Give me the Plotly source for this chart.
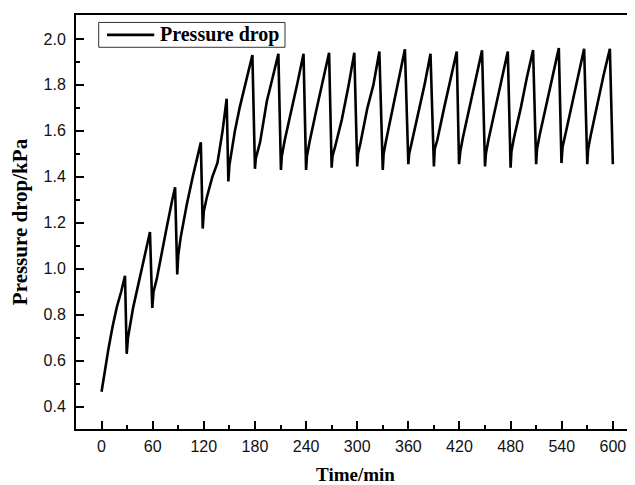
import plotly.graph_objects as go

# Time (min) and pressure drop (kPa)
time_min = [
    0, 4, 8, 13, 18, 23, 27.5, 29.5,
    31, 37, 43, 50, 56.8, 59.5,
    61, 65, 71, 77, 83, 86.3, 88.8,
    90, 93, 100, 107, 113, 116.5, 118.7,
    120, 123.5, 130, 136, 142, 146.8, 148.8,
    150, 156.5, 162, 168, 173, 177, 180,
    181, 186, 194, 200, 207.5, 210.5,
    211.5, 215, 223, 230, 237, 240,
    241, 244, 252, 260, 267, 270,
    271, 274, 282, 290, 296.6, 300,
    301, 304, 312, 319, 326, 330,
    331, 334, 342, 349, 356, 360,
    361, 364, 372, 379, 386, 390,
    391, 394, 402, 409, 416.8, 419.5,
    421, 424, 432, 439, 446.5, 450,
    451, 454, 462, 469, 476.7, 480,
    481, 484, 492, 499, 506.4, 510,
    511, 514, 522, 529, 536.6, 539.7,
    541, 544, 552, 559, 566.3, 570,
    571, 574, 582, 589, 596.5, 600,
]
pressure_kpa = [
    0.465, 0.56, 0.65, 0.75, 0.835, 0.90, 0.97, 0.63,
    0.70, 0.83, 0.93, 1.05, 1.16, 0.83,
    0.90, 0.96, 1.08, 1.19, 1.30, 1.355, 0.975,
    1.06, 1.14, 1.28, 1.40, 1.49, 1.55, 1.175,
    1.25, 1.31, 1.40, 1.46, 1.60, 1.74, 1.38,
    1.45, 1.60, 1.70, 1.79, 1.86, 1.93, 1.435,
    1.48, 1.55, 1.73, 1.82, 1.935, 1.43,
    1.49, 1.56, 1.69, 1.81, 1.935, 1.43,
    1.49, 1.55, 1.69, 1.82, 1.94, 1.44,
    1.49, 1.53, 1.65, 1.80, 1.94, 1.445,
    1.50, 1.55, 1.70, 1.80, 1.945, 1.43,
    1.50, 1.56, 1.70, 1.83, 1.955, 1.455,
    1.50, 1.55, 1.68, 1.80, 1.935, 1.445,
    1.52, 1.56, 1.70, 1.82, 1.945, 1.455,
    1.51, 1.57, 1.70, 1.82, 1.95, 1.445,
    1.50, 1.56, 1.70, 1.82, 1.945, 1.44,
    1.51, 1.57, 1.70, 1.83, 1.952, 1.455,
    1.52, 1.58, 1.72, 1.84, 1.96, 1.46,
    1.53, 1.58, 1.72, 1.84, 1.957, 1.455,
    1.52, 1.58, 1.72, 1.84, 1.957, 1.455,
]

series_name = "Pressure drop"
x_ticks = [0, 60, 120, 180, 240, 300, 360, 420, 480, 540, 600]
y_ticks = [0.4, 0.6, 0.8, 1.0, 1.2, 1.4, 1.6, 1.8, 2.0]
y_tick_labels = ["0.4", "0.6", "0.8", "1.0", "1.2", "1.4", "1.6", "1.8", "2.0"]

fig = go.Figure()
fig.add_trace(go.Scatter(
    x=time_min, y=pressure_kpa, mode="lines", name=series_name,
    line=dict(color="black", width=2.6), showlegend=False,
))

tick_font = dict(family="Liberation Sans, Arial, sans-serif", size=16, color="#111")
serif = "Liberation Serif, Times New Roman, serif"

# Legend box drawn in paper coordinates (relative to the plot area)
fig.add_shape(type="rect", xref="paper", yref="paper",
              x0=0.0406, x1=0.3739, y0=0.922, y1=0.982,
              line=dict(color="#333", width=1), fillcolor="white", layer="above")
fig.add_shape(type="line", xref="paper", yref="paper",
              x0=0.0555, x1=0.1400, y0=0.952, y1=0.952,
              line=dict(color="black", width=2.6), layer="above")
fig.add_annotation(xref="paper", yref="paper", x=0.1470, y=0.952,
                   xanchor="left", yanchor="middle", showarrow=False,
                   text="<b>" + series_name + "</b>",
                   font=dict(family=serif, size=20, color="black"))

# The page body adds an 8 px margin, so the figure is sized/offset to compensate
fig.update_layout(
    width=627, height=477,
    margin=dict(l=68, r=0, t=7, b=56, autoexpand=False),
    paper_bgcolor="white", plot_bgcolor="white",
    showlegend=False,
    xaxis=dict(
        range=[-30, 626], tickvals=x_ticks, ticktext=[str(v) for v in x_ticks],
        ticks="inside", ticklen=8, tickwidth=1.6, tickcolor="black",
        minor=dict(dtick=30, tick0=0, ticks="inside", ticklen=4, tickwidth=1.6, tickcolor="black"),
        showline=True, linecolor="black", linewidth=2, mirror=True,
        showgrid=False, zeroline=False, tickfont=tick_font, automargin=False,
        ticklabelstandoff=2,
        title=dict(text="<b>Time/min</b>", font=dict(family=serif, size=19, color="black"), standoff=15),
    ),
    yaxis=dict(
        range=[0.303, 2.104], tickvals=y_ticks, ticktext=y_tick_labels,
        ticks="inside", ticklen=8, tickwidth=1.6, tickcolor="black",
        minor=dict(dtick=0.1, tick0=0.3, ticks="inside", ticklen=4, tickwidth=1.6, tickcolor="black"),
        showline=True, linecolor="black", linewidth=2, mirror=True,
        showgrid=False, zeroline=False, tickfont=tick_font, automargin=False,
        ticklabelstandoff=5,
        title=dict(text="<b>Pressure drop/kPa</b>", font=dict(family=serif, size=21, color="black"), standoff=10),
    ),
)

fig.write_html("out.html")
